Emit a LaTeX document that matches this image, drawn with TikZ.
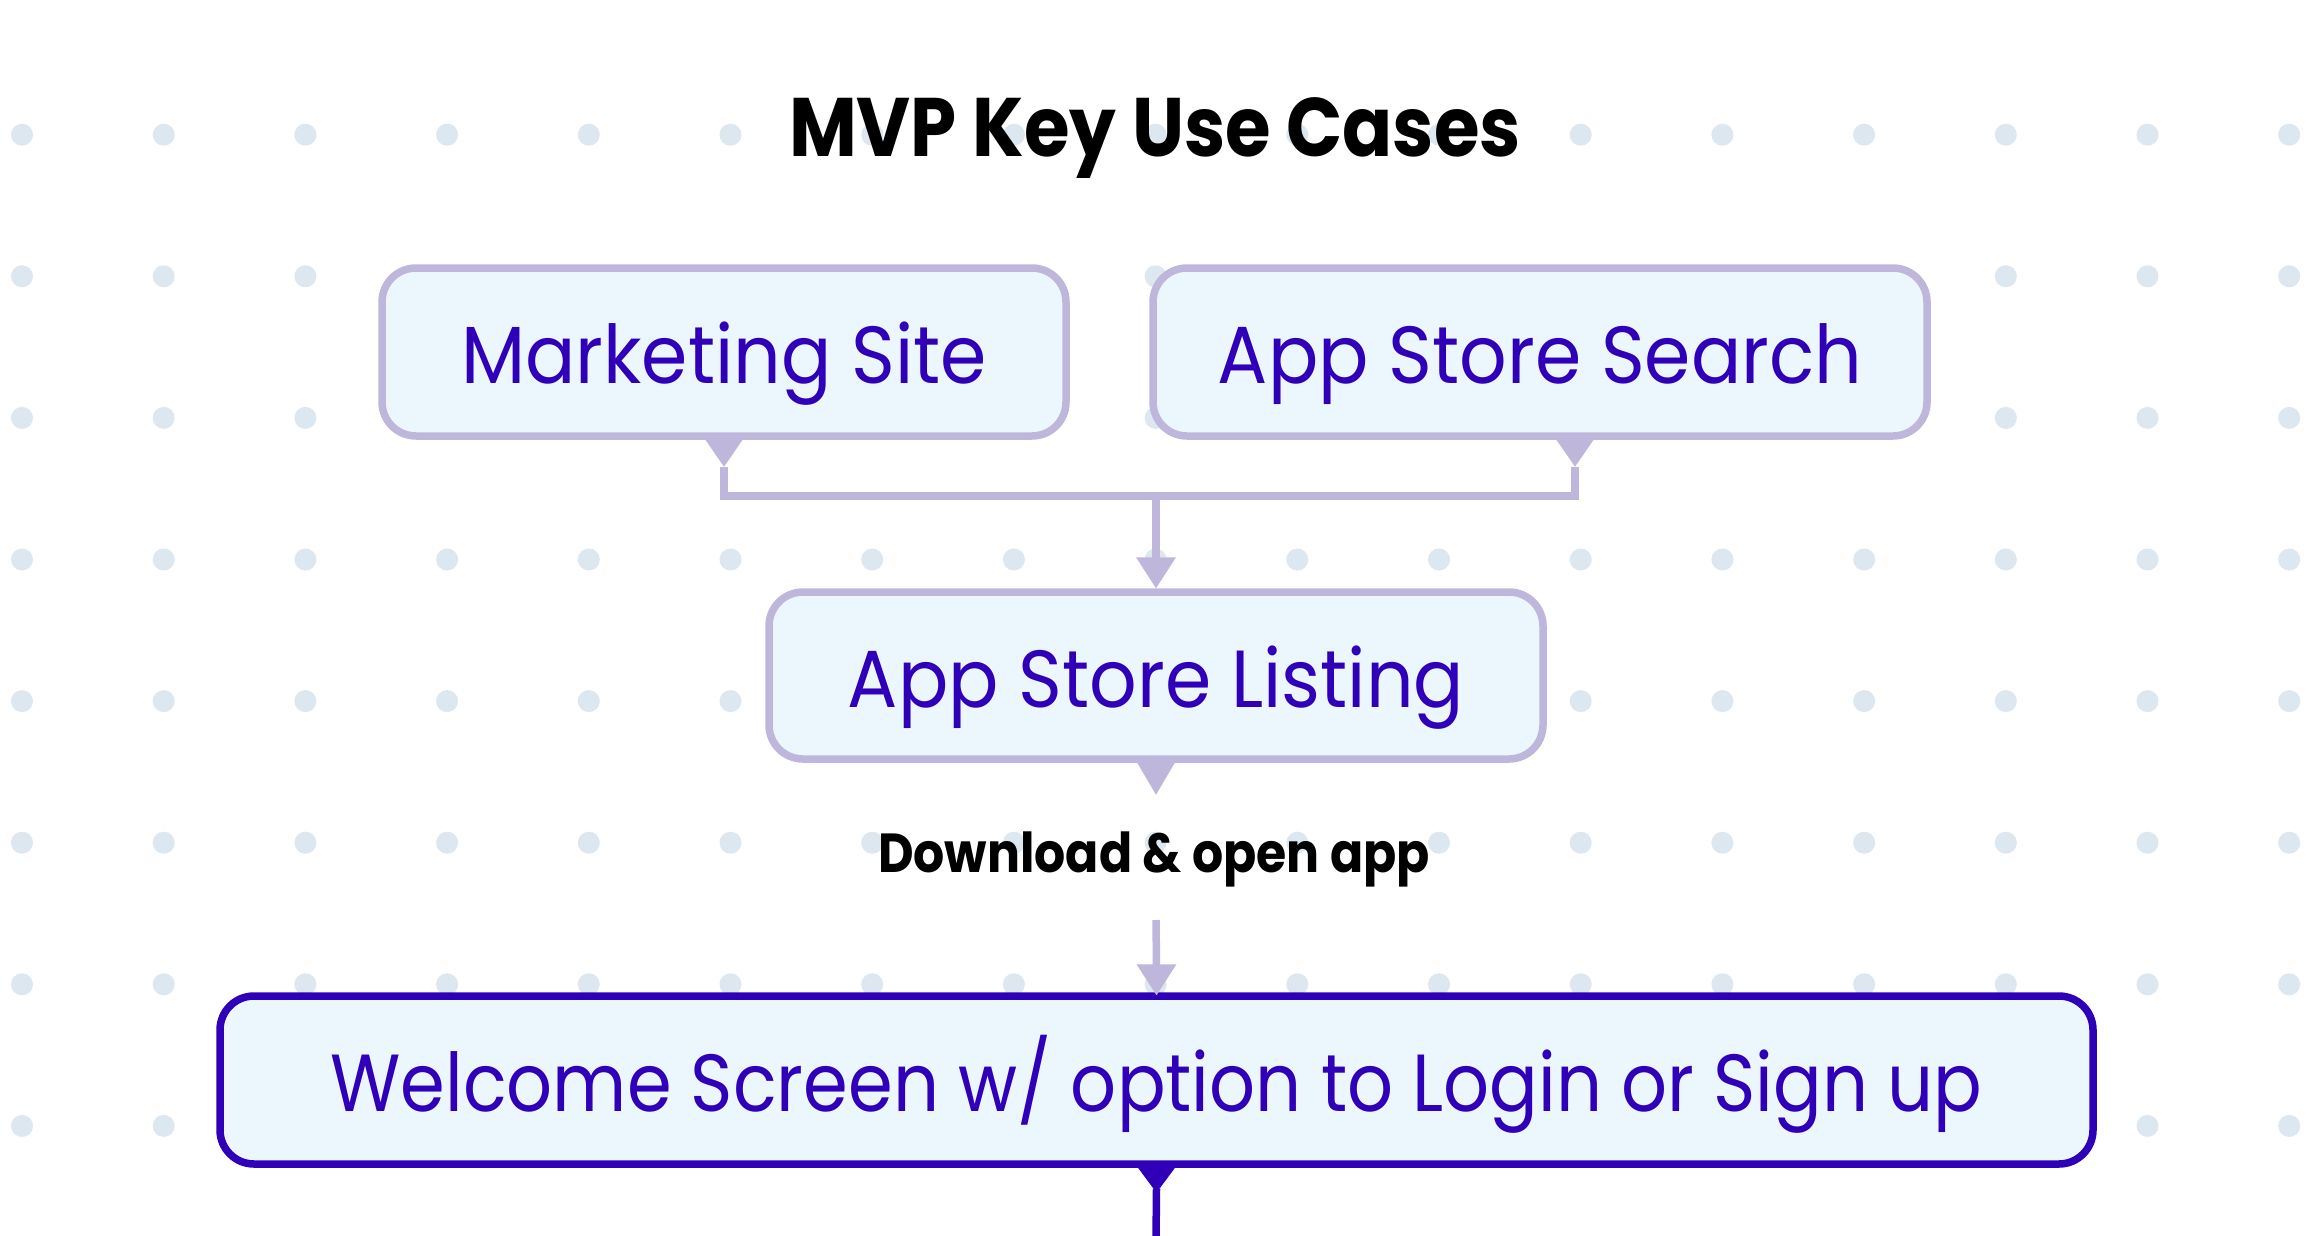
\documentclass[tikz,border=0pt]{standalone}
\usepackage{fontspec}
\setmainfont{Poppins}
\newfontfamily\boxfont{Poppins}[FakeStretch=0.92]
\newfontfamily\welfont{Poppins}[FakeStretch=0.889]
\newfontfamily\headfont{Poppins}[FakeStretch=0.89]
\usetikzlibrary{calc}
\definecolor{dotc}{HTML}{DCE7EF}
\definecolor{boxfill}{HTML}{ECF6FD}
\definecolor{lightedge}{HTML}{BFB6DC}
\definecolor{deep}{HTML}{3000B8}
\tikzset{
  box/.style={draw=lightedge, line width=7.5pt, fill=boxfill, rounded corners=34pt,
    text=deep, inner sep=0pt, font=\boxfont\fontsize{81}{90}\selectfont,
    text height=63pt, text depth=0pt},
  conn/.style={draw=lightedge, line width=7.5pt, line join=miter},
  headtxt/.style={font=\headfont\bfseries\fontsize{83}{90}\selectfont, anchor=base, inner sep=0pt, text=black},
  labeltxt/.style={font=\headfont\bfseries\fontsize{55}{60}\selectfont, anchor=base, inner sep=0pt, text=black}
}
\begin{document}
\begin{tikzpicture}[x=1pt,y=-1pt]
\useasboundingbox (0,0) rectangle (2312,1236);
\fill[white] (0,0) rectangle (2312,1236);
% dotted background
\foreach \i in {0,...,16}{
  \foreach \j in {0,...,7}{
    \fill[dotc] ({22+141.7*\i},{134.7+141.6*\j}) circle (11pt);
  }
}
% title
\node[headtxt] (title) at (1155,157) {MVP Key Use Cases};
% boxes
\node[box, minimum width=684pt, minimum height=168pt] (ms) at (724,352) {Marketing Site};
\node[box, minimum width=774pt, minimum height=168pt] (ass) at (1540,352) {App Store Search};
\node[box, minimum width=774pt, minimum height=167pt] (asl) at (1156,675.5) {App Store Listing};
\node[box, draw=deep, font=\welfont\fontsize{81}{90}\selectfont, minimum width=1873pt, minimum height=168pt] (wel) at (1156.5,1080) {Welcome Screen w/ option to Login or Sign up};
% label
\node[labeltxt] (lbl) at (1154,872) {Download \& open app};
% coordinates
\coordinate (msT) at ($(ms.south)+(0,27)$);
\coordinate (assB) at ($(ass.south)+(35,0)$);
\coordinate (assT) at ($(assB)+(0,27)$);
\coordinate (join) at (1156,496);
\coordinate (aslIn) at ($(asl.north)+(0,-31)$);
\coordinate (aslT) at ($(asl.south)+(0,32)$);
\coordinate (lblOut) at (1156,920);
\coordinate (welIn) at ($(wel.north)+(0,-28)$);
\coordinate (welT) at ($(wel.south)+(0,25)$);
\coordinate (bottomEnd) at (1156,1240);
% merge connector
\fill[lightedge] ($(ms.south)+(-20,-2)$) -- ($(ms.south)+(20,-2)$) -- (msT) -- cycle;
\fill[lightedge] ($(assB)+(-20,-2)$) -- ($(assB)+(20,-2)$) -- (assT) -- cycle;
\draw[conn] (msT) |- (join) -| (assT);
\draw[conn] (join) -- ($(aslIn)+(0,2)$);
\fill[lightedge] ($(aslIn)+(-20,0)$) -- ($(aslIn)+(20,0)$) -- (asl.north) -- cycle;
% listing to welcome
\fill[lightedge] ($(asl.south)+(-20,-2)$) -- ($(asl.south)+(20,-2)$) -- (aslT) -- cycle;
\draw[conn] (lblOut) -- ($(welIn)+(0,2)$);
\fill[lightedge] ($(welIn)+(-20,0)$) -- ($(welIn)+(20,0)$) -- ($(wel.north)+(0,3)$) -- cycle;
% welcome onward
\fill[deep] ($(wel.south)+(-20,-2)$) -- ($(wel.south)+(20,-2)$) -- (welT) -- cycle;
\draw[conn, draw=deep] ($(welT)+(0,-4)$) -- (bottomEnd);
\end{tikzpicture}
\end{document}
